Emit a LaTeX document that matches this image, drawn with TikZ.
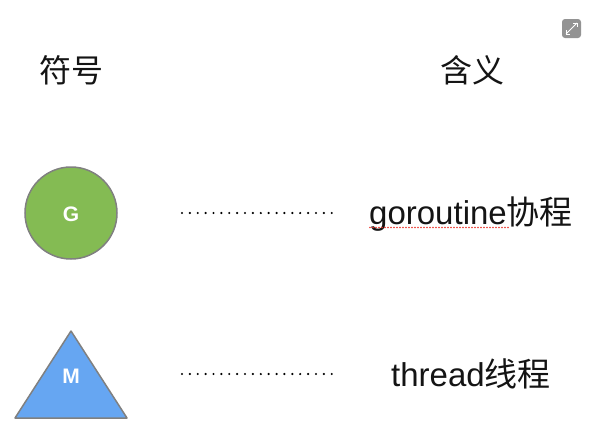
\documentclass[tikz,border=0pt]{standalone}
\usepackage{fontspec}
\setmainfont{Liberation Sans}
\newfontfamily\cjk{Noto Sans CJK SC}
\usetikzlibrary{shapes.geometric}
\definecolor{ggreen}{RGB}{132,187,83}
\definecolor{mblue}{RGB}{102,166,242}
\definecolor{edgegrey}{RGB}{128,128,128}
\definecolor{txt}{RGB}{20,20,20}
\definecolor{spellred}{RGB}{235,50,40}
\tikzset{
  bigtext/.style={text=txt,inner sep=0pt,font=\fontsize{32}{38}\selectfont},
  meantext/.style={text=txt,inner sep=0pt,font=\fontsize{33}{39}\selectfont},
  symlabel/.style={text=white,inner sep=0pt,font=\fontsize{21}{24}\selectfont\bfseries},
  leader/.style={line width=2.4pt,dash pattern=on 0pt off 7.88pt,line cap=round,black},
}
\begin{document}
\begin{tikzpicture}[x=1pt,y=-1pt]
\useasboundingbox (0,0) rectangle (590,429);
% headers
\node[bigtext] (h1) at (71,70) {\cjk 符号};
\node[bigtext] (h2) at (472,70) {\cjk 含义};
% G circle
\draw[edgegrey,line width=1.5pt,fill=ggreen] (71,213) circle (46);
\node[symlabel] (G) at (71,214) {G};
% M triangle
\draw[edgegrey,line width=1.5pt,fill=mblue,line join=round] (71,331) -- (127,418) -- (15,418) -- cycle;
\node[symlabel] (M) at (71,376) {M};
% leaders
\coordinate (l1a) at (182,213);
\coordinate (l1b) at (331.8,213);
\coordinate (l2a) at (182,374);
\coordinate (l2b) at (331.8,374);
\draw[leader] (l1a) -- (l1b);
\draw[leader] (l2a) -- (l2b);
% meanings
\node[meantext,anchor=base] (m1) at (471,224) {goroutine{\cjk 协程}};
\node[meantext,anchor=base] (m2) at (471,386.5) {thread{\cjk 线程}};
% spell-check underline
\draw[spellred,line width=1.6pt,line cap=round,dash pattern=on 0pt off 3pt] (370,227.5) -- (508,227.5);
% expand icon
\fill[gray!85,rounded corners=3pt] (562,19) rectangle (581,38);
\draw[white,line width=0.8pt] (566,34) -- (577,23);
\draw[white,line width=0.8pt] (566,30) -- (566,34) -- (570,34);
\draw[white,line width=0.8pt] (573,23) -- (577,23) -- (577,27);
\end{tikzpicture}
\end{document}
